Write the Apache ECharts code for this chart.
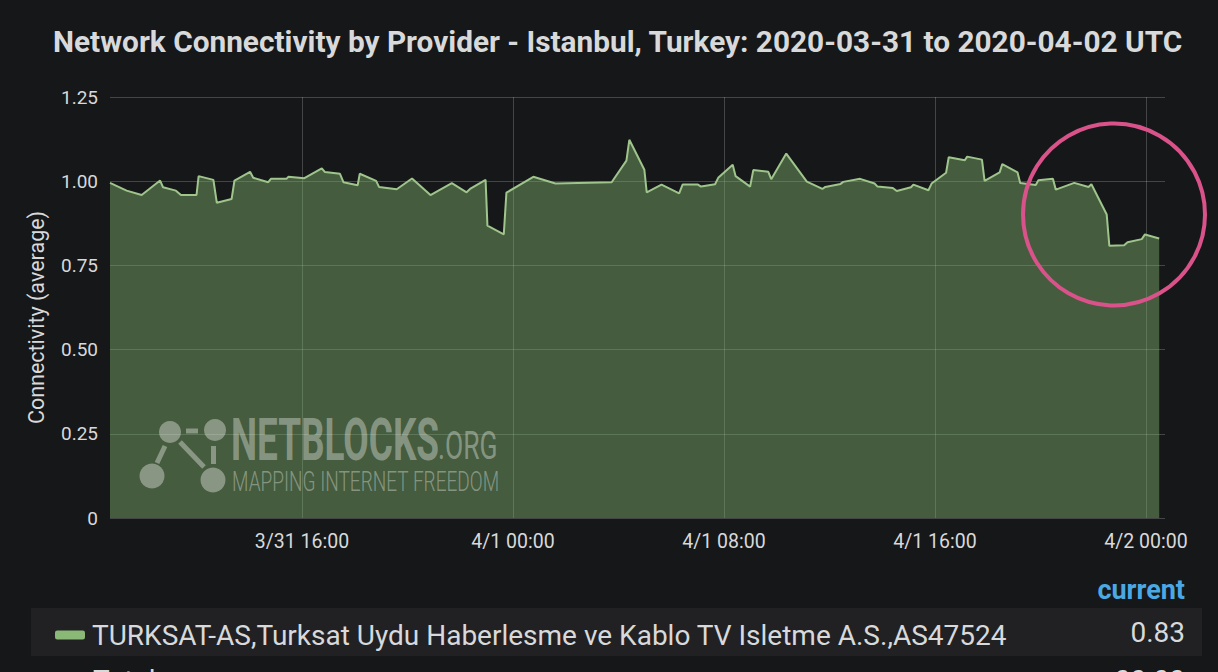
<!DOCTYPE html>
<html>
<head>
<meta charset="utf-8">
<script src="https://cdn.jsdelivr.net/npm/echarts@6/dist/echarts.min.js"></script>
<style>
html,body{margin:0;padding:0;background:#161719;}
#chart{width:1218px;height:672px;}
</style>
</head>
<body>
<div id="chart"></div>
<script>
// ---- data (hours since 2020-03-31 00:00 UTC, connectivity average) ----
const titleText = 'Network Connectivity by Provider - Istanbul, Turkey: 2020-03-31 to 2020-04-02 UTC';
const seriesName = 'TURKSAT-AS,Turksat Uydu Haberlesme ve Kablo TV Isletme A.S.,AS47524';
const yAxisName = 'Connectivity (average)';
const xTickHours = [16, 24, 32, 40, 48];
const xTickLabels = ['3/31 16:00', '4/1 00:00', '4/1 08:00', '4/1 16:00', '4/2 00:00'];
const xRange = [8.72, 48.72];
const yTicks = [0, 0.25, 0.5, 0.75, 1, 1.25];
const yTickLabels = ['0', '0.25', '0.50', '0.75', '1.00', '1.25'];

const hours = [8.72, 9.35, 9.92, 10.62, 10.73, 11.22, 11.41, 12.00, 12.08, 12.64, 12.77, 13.33, 13.44, 14.03, 14.15, 14.72, 14.82, 15.41, 15.48, 16.09,
  16.75, 16.87, 17.44, 17.57, 18.11, 18.19, 18.81, 18.92, 19.59, 20.17, 20.87, 21.68, 22.24, 22.37, 22.96, 23.03, 23.65, 23.75, 24.77, 25.61,
  27.74, 28.30, 28.41, 28.98, 29.07, 29.63, 30.30, 30.43, 31.01, 31.13, 31.66, 31.78, 32.33, 32.44, 32.99, 33.11, 33.68, 33.79, 34.36, 35.14,
  35.73, 35.84, 36.42, 36.52, 37.16, 37.71, 37.82, 38.40, 38.55, 39.09, 39.18, 39.75, 39.87, 40.42, 40.52, 41.13, 41.22, 41.78, 41.88, 42.45,
  42.55, 43.13, 43.23, 43.82, 43.92, 44.47, 44.58, 45.28, 45.82, 45.93, 46.51, 46.61, 47.17, 47.30, 47.84, 47.96, 48.50];
const connectivity = [0.995, 0.972, 0.959, 1.002, 0.982, 0.972, 0.959, 0.959, 1.015, 1.004, 0.936, 0.947, 1.002, 1.028, 1.010, 0.997, 1.007, 1.007, 1.013, 1.009,
  1.038, 1.027, 1.022, 0.997, 0.988, 1.022, 1.001, 0.983, 0.976, 1.008, 0.959, 0.994, 0.967, 0.977, 1.004, 0.868, 0.842, 0.966, 1.013, 0.993,
  0.997, 1.061, 1.123, 1.034, 0.967, 0.990, 0.964, 0.990, 0.990, 0.984, 0.991, 1.010, 1.049, 1.015, 0.984, 1.033, 1.028, 1.006, 1.082, 0.999,
  0.977, 0.983, 0.992, 0.998, 1.007, 0.993, 0.984, 0.980, 0.971, 0.982, 0.990, 0.973, 0.993, 1.025, 1.071, 1.062, 1.073, 1.064, 1.001, 1.026,
  1.051, 1.026, 0.995, 0.989, 1.003, 1.007, 0.975, 0.995, 0.983, 0.991, 0.901, 0.808, 0.810, 0.819, 0.828, 0.842, 0.830];

const legendHeader = 'current';
const totalLabel = 'Total';
const totalValue = '00.00';
const watermarkMain = 'NETBLOCKS';
const watermarkOrg = '.ORG';
const watermarkSub = 'MAPPING INTERNET FREEDOM';

// ---- chart ----
const chart = echarts.init(document.getElementById('chart'), null, {renderer: 'svg'});
const FONT = 'Roboto, "Noto Sans", sans-serif';
const TXT = '#d8d9da';
const WM = 'rgba(255,255,255,0.36)';
const points = hours.map((h, i) => [h, connectivity[i]]);
const currentValue = connectivity[connectivity.length - 1].toFixed(2);

const option = {
  backgroundColor: '#161719',
  animation: false,
  title: {
    text: titleText,
    left: 48,
    top: 21,
    textStyle: {color: TXT, fontFamily: FONT, fontSize: 29.8, fontWeight: 'bold'}
  },
  grid: {left: 110, right: 53, top: 97, bottom: 154, containLabel: false},
  legend: {
    left: 50, top: 616,
    icon: 'roundRect', itemWidth: 30, itemHeight: 9, itemGap: 14,
    textStyle: {color: TXT, fontFamily: FONT, fontSize: 28, padding: [0, 0, 0, 2]},
    data: [seriesName]
  },
  xAxis: {
    type: 'value', min: xRange[0], max: xRange[1],
    axisLine: {show: false},
    axisTick: {show: false, customValues: xTickHours},
    axisLabel: {
      customValues: xTickHours,
      color: TXT, fontFamily: FONT, fontSize: 19.5, margin: 13,
      formatter: v => xTickLabels[xTickHours.indexOf(Math.round(v))] || ''
    },
    splitLine: {show: true, lineStyle: {color: 'rgba(255,255,255,0.2)', width: 1}}
  },
  yAxis: {
    type: 'value', min: 0, max: 1.25, interval: 0.25,
    name: yAxisName, nameLocation: 'middle', nameGap: 63,
    nameTextStyle: {color: TXT, fontFamily: FONT, fontSize: 21.5, padding: [0, 20, 0, 0]},
    axisLine: {show: false}, axisTick: {show: false},
    axisLabel: {
      color: TXT, fontFamily: FONT, fontSize: 19, margin: 12,
      formatter: v => yTickLabels[yTicks.findIndex(t => Math.abs(t - v) < 1e-6)]
    },
    splitLine: {show: true, lineStyle: {color: 'rgba(255,255,255,0.2)', width: 1}}
  },
  series: [{
    name: seriesName,
    type: 'line',
    data: points,
    showSymbol: false,
    symbol: 'none',
    itemStyle: {color: '#8ab877'},
    lineStyle: {color: '#9fc58c', width: 2},
    areaStyle: {color: '#7eb26d', opacity: 0.45},
    z: 2
  }],
  graphic: [
    // legend row background
    {type: 'rect', z: -10, shape: {x: 31, y: 608, width: 1171, height: 48}, style: {fill: '#212124'}},
    {type: 'text', style: {x: 1185, y: 603, text: legendHeader, fill: '#4aa8e4', font: 'bold 27px Roboto, sans-serif', textAlign: 'right', textVerticalAlign: 'bottom'}},
    {type: 'text', style: {x: 1185, y: 632, text: currentValue, fill: TXT, font: '28px Roboto, sans-serif', textAlign: 'right', textVerticalAlign: 'middle'}},
    {type: 'text', style: {x: 93, y: 666, text: totalLabel, fill: TXT, font: '28px Roboto, sans-serif', textAlign: 'left', textVerticalAlign: 'top'}},
    {type: 'text', style: {x: 1185, y: 666, text: totalValue, fill: TXT, font: '28px Roboto, sans-serif', textAlign: 'right', textVerticalAlign: 'top'}},
    // watermark logo
    {type: 'circle', z: 5, shape: {cx: 170, cy: 432, r: 11}, style: {fill: WM}},
    {type: 'circle', z: 5, shape: {cx: 215, cy: 430, r: 11}, style: {fill: WM}},
    {type: 'circle', z: 5, shape: {cx: 152, cy: 476, r: 12.5}, style: {fill: WM}},
    {type: 'circle', z: 5, shape: {cx: 213, cy: 480, r: 12.5}, style: {fill: WM}},
    {type: 'line', z: 5, shape: {x1: 186, y1: 431, x2: 198, y2: 431}, style: {stroke: WM, lineWidth: 5}},
    {type: 'line', z: 5, shape: {x1: 165, y1: 446, x2: 157, y2: 463}, style: {stroke: WM, lineWidth: 5}},
    {type: 'line', z: 5, shape: {x1: 180, y1: 442, x2: 204, y2: 467}, style: {stroke: WM, lineWidth: 5}},
    {type: 'line', z: 5, shape: {x1: 213.5, y1: 446, x2: 213.5, y2: 464}, style: {stroke: WM, lineWidth: 5}},
    {type: 'text', z: 5, x: 231, y: 440, scaleX: 0.615, style: {x: 0, y: 0, text: watermarkMain, fill: WM, font: 'bold 60px Roboto, sans-serif', textAlign: 'left', textVerticalAlign: 'middle'}},
    {type: 'text', z: 5, x: 438, y: 446, scaleX: 0.68, style: {x: 0, y: 0, text: watermarkOrg, fill: WM, font: '39px Roboto, sans-serif', textAlign: 'left', textVerticalAlign: 'middle'}},
    {type: 'text', z: 5, x: 232, y: 482, scaleX: 0.705, style: {x: 0, y: 0, text: watermarkSub, fill: WM, font: '300 27px Roboto, sans-serif', textAlign: 'left', textVerticalAlign: 'middle'}},
    // annotation circle
    {type: 'circle', z: 20, shape: {cx: 1114, cy: 214.5, r: 91}, style: {fill: 'none', stroke: '#d9528a', lineWidth: 4}}
  ]
};
chart.setOption(option);
</script>
</body>
</html>
